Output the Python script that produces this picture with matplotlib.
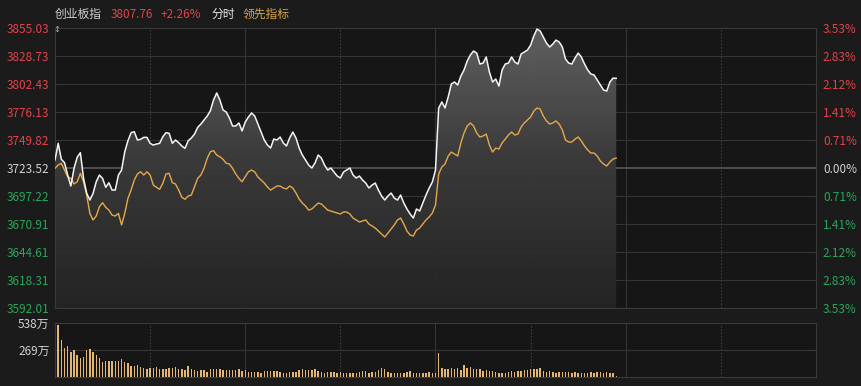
import numpy as np
import matplotlib
matplotlib.use("Agg")
import matplotlib.pyplot as plt
from matplotlib.patches import Polygon
from matplotlib.colors import LinearSegmentedColormap

plt.rcParams['font.family'] = ['Noto Sans CJK SC', 'DejaVu Sans']

# ---------------- data ----------------
prev_close = 3723.52
price_ticks = [3855.03, 3828.73, 3802.43, 3776.13, 3749.82, 3723.52,
               3697.22, 3670.91, 3644.61, 3618.31, 3592.01]
pct_labels = ['3.53%', '2.83%', '2.12%', '1.41%', '0.71%', '0.00%',
              '0.71%', '1.41%', '2.12%', '2.83%', '3.53%']
vol_ticks = [538, 269]
vol_labels = ['538万', '269万']
time_grid = [30, 60, 90, 120, 150, 180, 210]

index_price = [
    3731.0, 3746.7, 3731.7, 3728.5, 3716.9, 3706.6, 3723.2, 3733.6, 3737.9, 3713.8,
    3699.7, 3693.4, 3699.7, 3710.6, 3716.9, 3713.8, 3705.4, 3709.7, 3702.8, 3702.8,
    3716.9, 3721.6, 3738.8, 3749.1, 3756.7, 3757.6, 3749.8, 3750.5, 3752.3, 3752.3,
    3746.7, 3745.1, 3746.0, 3746.7, 3752.9, 3756.7, 3756.1, 3746.7, 3749.8, 3747.3,
    3744.2, 3742.0, 3749.1, 3751.7, 3755.4, 3761.7, 3764.8, 3768.6, 3772.3, 3777.3,
    3787.4, 3794.0, 3787.4, 3778.0, 3776.1, 3770.5, 3763.0, 3763.0, 3765.8, 3758.3,
    3766.7, 3771.4, 3775.2, 3772.3, 3764.8, 3757.3, 3749.8, 3745.1, 3742.3, 3750.7,
    3749.8, 3752.6, 3747.0, 3744.2, 3751.7, 3757.3, 3751.7, 3742.3, 3735.7, 3731.0,
    3726.3, 3723.5, 3728.2, 3735.7, 3732.9, 3726.3, 3721.6, 3723.5, 3719.8, 3716.0,
    3714.1, 3719.8, 3721.6, 3723.5, 3716.9, 3714.1, 3716.0, 3712.2, 3709.4, 3704.7,
    3707.5, 3709.4, 3702.8, 3697.2, 3693.4, 3697.2, 3700.0, 3695.3, 3693.4, 3698.1,
    3690.6, 3685.0, 3680.3, 3676.5, 3685.0, 3683.1, 3690.6, 3698.1, 3704.7, 3710.3,
    3721.6, 3779.9, 3785.5, 3779.9, 3790.2, 3802.4, 3804.3, 3801.5, 3809.9, 3815.6,
    3824.0, 3829.7, 3833.4, 3831.5, 3821.2, 3822.1, 3827.8, 3813.7, 3804.3, 3807.1,
    3800.5, 3815.6, 3821.2, 3822.1, 3827.8, 3823.1, 3821.2, 3830.6, 3832.5, 3834.3,
    3839.0, 3847.5, 3854.1, 3852.2, 3846.6, 3840.9, 3837.2, 3840.0, 3843.7, 3841.9,
    3837.2, 3825.9, 3822.1, 3821.2, 3826.8, 3831.5, 3827.8, 3821.2, 3815.6, 3811.8,
    3810.9, 3806.2, 3801.5, 3796.8, 3795.8, 3804.3, 3808.0, 3807.76,
]

leading_index = [
    3723.2, 3726.3, 3727.9, 3721.6, 3715.3, 3713.8, 3708.5, 3710.6, 3718.5, 3710.6,
    3698.1, 3680.9, 3674.7, 3678.4, 3687.1, 3690.9, 3686.6, 3684.0, 3679.3, 3678.4,
    3680.9, 3670.0, 3680.9, 3695.0, 3702.8, 3712.2, 3717.9, 3720.0, 3716.9, 3720.0,
    3716.9, 3707.5, 3705.4, 3703.5, 3709.1, 3717.9, 3718.5, 3709.7, 3708.5, 3702.8,
    3696.0, 3694.1, 3697.2, 3698.1, 3705.9, 3713.8, 3716.9, 3723.2, 3732.6, 3738.8,
    3739.8, 3735.7, 3734.1, 3731.7, 3727.9, 3727.3, 3723.2, 3717.9, 3713.8, 3710.6,
    3715.3, 3720.0, 3721.6, 3719.8, 3715.0, 3712.2, 3709.4, 3705.7, 3702.8, 3704.7,
    3706.6, 3706.6, 3704.7, 3703.8, 3706.6, 3704.7, 3700.0, 3694.4, 3690.6, 3687.8,
    3684.0, 3685.0, 3687.8, 3690.6, 3689.7, 3686.9, 3684.0, 3683.1, 3682.2, 3681.2,
    3680.3, 3682.2, 3682.2, 3680.3, 3676.5, 3674.7, 3672.8, 3673.7, 3674.7, 3670.9,
    3669.0, 3667.1, 3664.3, 3661.5, 3658.7, 3662.4, 3666.2, 3670.0, 3674.7, 3676.5,
    3670.9, 3664.3, 3660.6, 3659.6, 3665.3, 3667.1, 3670.9, 3674.7, 3677.5, 3681.2,
    3688.7, 3717.9, 3724.4, 3727.3, 3734.8, 3738.5, 3736.7, 3734.8, 3747.0, 3756.4,
    3763.0, 3765.8, 3763.0, 3756.4, 3752.6, 3753.6, 3755.4, 3745.1, 3738.5, 3742.3,
    3741.3, 3747.0, 3750.7, 3754.5, 3757.3, 3754.5, 3755.4, 3762.0, 3765.8, 3768.6,
    3771.4, 3777.0, 3779.9, 3778.9, 3772.3, 3767.7, 3764.8, 3765.8, 3767.7, 3764.8,
    3759.2, 3749.8, 3747.9, 3747.9, 3750.7, 3752.6, 3748.9, 3744.2, 3740.4, 3737.6,
    3737.6, 3734.8, 3730.1, 3727.3, 3725.4, 3729.1, 3732.0, 3732.9,
]

volume_wan = [
    97, 520, 370, 287, 310, 253, 270, 220, 187, 203, 270, 280, 253, 220, 187, 153, 160, 160, 160, 160, 160,
    180, 153, 143, 110, 110, 120, 103, 87, 77, 87, 87, 97, 77, 77, 77, 87, 87, 97, 77, 77,
    70, 110, 77, 70, 63, 70, 70, 53, 77, 77, 83, 83, 70, 70, 70, 70, 70, 77, 63, 70,
    53, 53, 53, 53, 43, 60, 60, 63, 60, 60, 53, 43, 43, 53, 53, 53, 70,
    77, 70, 70, 70, 77, 60, 53, 43, 53, 50, 50, 43, 50, 43, 43, 43, 43, 43, 50, 60,
    60, 43, 50, 50, 70, 87, 77, 50, 43, 43, 43, 43, 43, 50, 60, 43, 43, 43, 43, 43,
    50, 43, 43,
    243,
    87, 80, 80, 87, 80, 87, 70, 120, 93, 97, 80, 80, 80, 63, 70, 63, 60, 53, 43, 43,
    43, 50, 60, 53, 63, 63, 70, 70, 77, 77, 77, 87, 60, 53, 60, 50, 43, 50, 53, 50,
    50, 43, 50, 43, 43, 43, 43, 50, 43, 50, 50, 43, 50, 43, 43, 10,
]

# ---------------- style ----------------
BG = '#1b1b1b'
PANEL = '#161616'
GRID = '#353535'
RED = '#e2434b'
GREEN = '#2aa75a'
LABEL = '#d0d0d0'
WHITE_LINE = '#f4f4f4'
ORANGE = '#e6a84a'
BAR = '#e3b677'
FS = 8.5

W, H = 862, 386
fig = plt.figure(figsize=(W / 100, H / 100), dpi=100, facecolor=BG)

def fx(px):
    return px / W

def fy(py):
    return 1 - py / H

L, R = 55, 816
ax = fig.add_axes([fx(L), fy(308), fx(R - L), (308 - 28) / H])
axv = fig.add_axes([fx(L), fy(377), fx(R - L), (377 - 323) / H])

minutes = np.arange(len(index_price))
ymin, ymax = price_ticks[-1], price_ticks[0]

for a in (ax, axv):
    a.set_facecolor(PANEL)
    for s in a.spines.values():
        s.set_color('#3a3a3a')
        s.set_linewidth(0.8)
    a.set_xlim(0, 240)
    a.set_xticks([])
    for k, t in enumerate(time_grid):
        if k % 2 == 0:
            a.axvline(t, color='#3c3c3c', lw=0.8, ls=(0, (1.5, 1.5)), zorder=0.5)
        else:
            a.axvline(t, color=GRID, lw=0.8, zorder=0.5)

# --- main panel ---
for p in price_ticks[1:-1]:
    if p == prev_close:
        ax.axhline(p, color='#4e4e4e', lw=1.4, zorder=0.6)
    else:
        ax.axhline(p, color=GRID, lw=0.8, zorder=0.6)

# gradient fill under price line
verts = [(0, ymin)] + list(zip(minutes, index_price)) + [(minutes[-1], ymin)]
poly = Polygon(verts, closed=True, facecolor='none', edgecolor='none')
ax.add_patch(poly)
cmap = LinearSegmentedColormap.from_list('g', ['#252525', '#3a3a3a', '#646464'])
grad = np.linspace(0, 1, 256).reshape(-1, 1)
im = ax.imshow(grad, extent=[0, minutes[-1], ymin, ymax], origin='lower',
               aspect='auto', cmap=cmap, zorder=1, interpolation='bilinear', alpha=0.95)
im.set_clip_path(poly)

ax.plot(minutes, leading_index, color=ORANGE, lw=1.0, zorder=3)
ax.plot(minutes, index_price, color=WHITE_LINE, lw=1.1, zorder=4)

ax.set_xlim(0, 240)
ax.set_ylim(ymin, ymax)
ax.set_yticks(price_ticks)
ax.set_yticklabels([f'{p:.2f}' for p in price_ticks])
ax.tick_params(axis='y', length=0, pad=4, labelsize=FS)
for lab, p in zip(ax.get_yticklabels(), price_ticks):
    lab.set_color(RED if p > prev_close else (GREEN if p < prev_close else LABEL))

ax2 = ax.twinx()
ax2.set_ylim(ymin, ymax)
ax2.set_yticks(price_ticks)
ax2.set_yticklabels(pct_labels)
ax2.tick_params(axis='y', length=0, pad=5, labelsize=FS)
for s in ax2.spines.values():
    s.set_visible(False)
for lab, p in zip(ax2.get_yticklabels(), price_ticks):
    lab.set_color(RED if p > prev_close else (GREEN if p < prev_close else LABEL))

# --- volume panel ---
axv.axhline(vol_ticks[1], color=GRID, lw=0.8, zorder=0.6)
axv.bar(np.arange(len(volume_wan)), volume_wan, width=0.45, color=BAR, zorder=2)
axv.set_ylim(0, vol_ticks[0])
axv.set_yticks(vol_ticks)
axv.set_yticklabels(vol_labels)
axv.tick_params(axis='y', length=0, pad=4, labelsize=FS, colors=LABEL)

# --- header ---
hy = fy(14)
fig.text(fx(55), hy, '创业板指', color=LABEL, fontsize=FS, va='center')
fig.text(fx(111), hy, f'{index_price[-1]:.2f}', color=RED, fontsize=FS, va='center')
pct = (index_price[-1] - prev_close) / prev_close * 100
fig.text(fx(161), hy, f'+{pct:.2f}%', color=RED, fontsize=FS, va='center')
fig.text(fx(211), hy, '分时', color='#e8e8e8', fontsize=FS, va='center')
fig.text(fx(243), hy, '领先指标', color='#d9a441', fontsize=FS, va='center')
fig.text(fx(53), fy(29), '↕', color='#aaaaaa', fontsize=6, va='center', ha='left',
         family=['DejaVu Sans'])

fig.savefig('out.png', dpi=100, facecolor=BG)
